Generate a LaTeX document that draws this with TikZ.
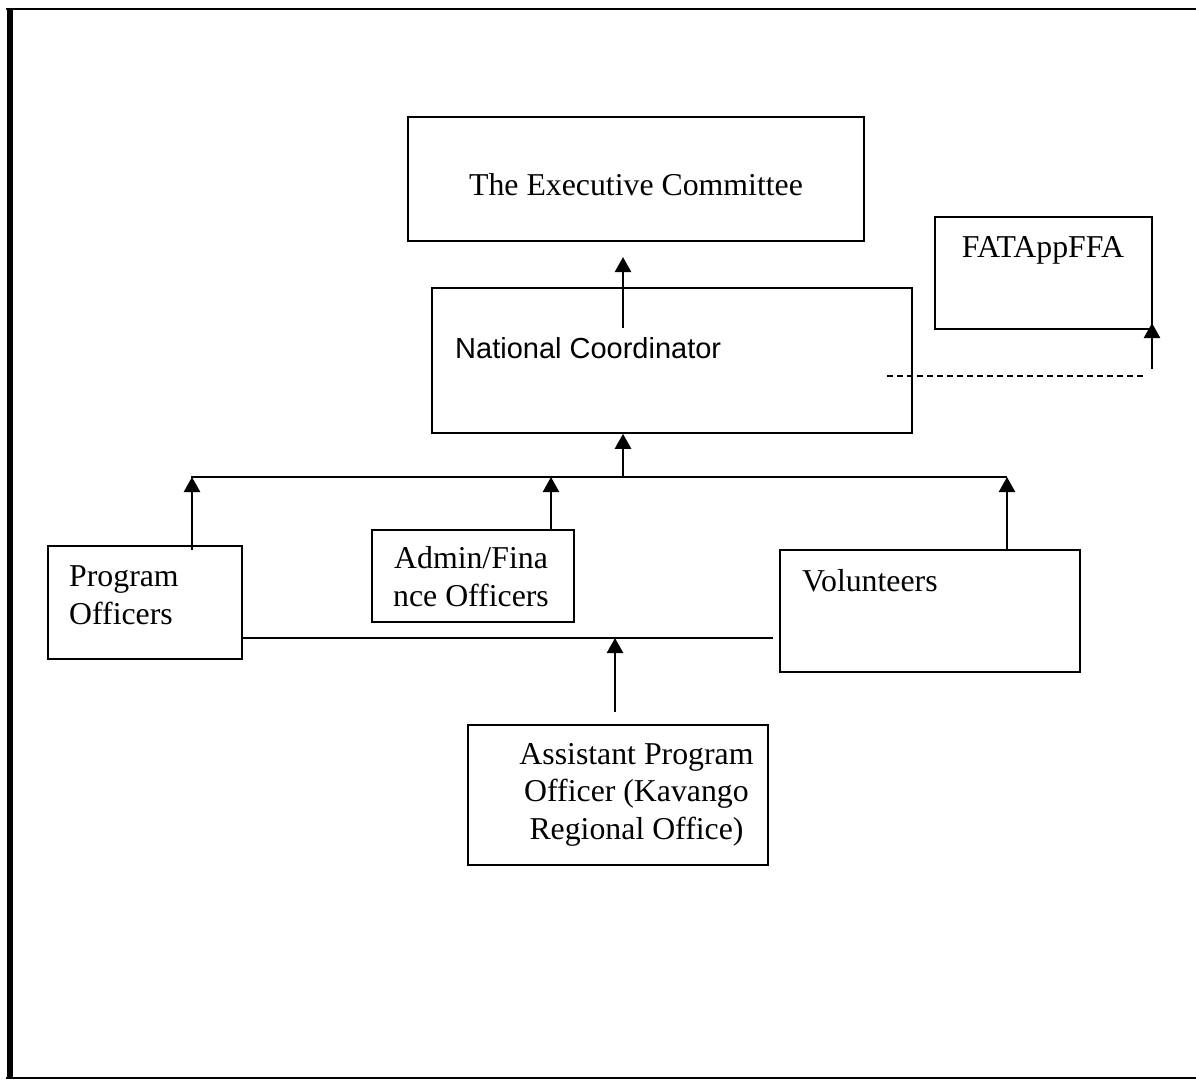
\documentclass[tikz,border=0pt]{standalone}
\usepackage{fontspec}
\setmainfont{Liberation Serif}
\newfontfamily\arialfont{Liberation Sans}
\usetikzlibrary{arrows.meta}
\begin{document}
\begin{tikzpicture}[x=1pt,y=-1pt,
  box/.style={draw, line width=1.6pt, inner sep=0pt, rectangle},
  txt/.style={inner sep=0pt, font=\fontsize{31.8}{37.5}\selectfont},
  sanstxt/.style={inner sep=0pt, font=\arialfont\fontsize{29}{34}\selectfont},
  uparrow/.style={line width=2.5pt, -{Triangle[width=16pt,length=15pt]}},
  thinline/.style={line width=1.6pt},
  dashline/.style={line width=1.6pt, dash pattern=on 6pt off 4pt}]
\useasboundingbox (0,0) rectangle (1196,1079);
% frame
\draw[line width=2.5pt] (6,9) -- (1196,9);
\draw[line width=1.6pt] (6,1078) -- (1196,1078);
\draw[line width=6.5pt] (10,8) -- (10,1079);
% boxes
\node[box, minimum width=456pt, minimum height=124pt] (exec) at (636,179) {};
\node[txt, anchor=base] (exect) at (636,195) {The Executive Committee};
\node[box, minimum width=480pt, minimum height=145pt] (nc) at (672,360.5) {};
\node[sanstxt, anchor=base west] (nct) at (455,358) {National Coordinator};
\node[box, minimum width=217pt, minimum height=112pt] (fat) at (1043.5,273) {};
\node[txt, anchor=base] (fatt) at (1043,257) {FATAppFFA};
\node[box, minimum width=194pt, minimum height=113pt] (prog) at (145,602.5) {};
\node[txt, anchor=base west, align=left] (progt) at (69,624) {Program\\Officers};
\node[box, minimum width=202pt, minimum height=92pt] (admin) at (473,576) {};
\node[txt, anchor=base, align=center] (admint) at (471,606) {Admin/Fina\\nce Officers};
\node[box, minimum width=300pt, minimum height=122pt] (vol) at (930,611) {};
\node[txt, anchor=base west] (volt) at (802,591) {Volunteers};
\node[box, minimum width=300pt, minimum height=140pt] (apo) at (618,795) {};
\node[txt, anchor=base, align=center] (apot) at (636.5,839) {Assistant Program\\Officer (Kavango\\Regional Office)};
% coordinates
\coordinate (ncup) at (623,328);
\coordinate (execin) at (623,257);
\coordinate (busL) at (191,477);
\coordinate (busR) at (1007,477);
\coordinate (busC) at (623,477);
\coordinate (progup) at (192,550);
\coordinate (busP) at (192,477);
\coordinate (busA) at (551,477);
\coordinate (lowL) at (243,638);
\coordinate (lowR) at (773,638);
\coordinate (lowC) at (615,638);
\coordinate (apoup) at (615,712);
\coordinate (dashL) at (887,376);
\coordinate (dashR) at (1146,376);
\coordinate (fatup) at (1152,369);
\coordinate (fatin) at (1152,323);
% connectors
\draw[uparrow] (ncup) -- (execin);
\draw[thinline] (busL) -- (busR);
\draw[uparrow] (busC) -- (busC |- nc.south);
\draw[uparrow] (progup) -- (busP);
\draw[uparrow] (admin.north -| busA) -- (busA);
\draw[uparrow] (vol.north -| busR) -- (busR);
\draw[thinline] (lowL) -- (lowR);
\draw[uparrow] (apoup) -- (lowC);
\draw[dashline] (dashL) -- (dashR);
\draw[uparrow] (fatup) -- (fatin);
\end{tikzpicture}
\end{document}
